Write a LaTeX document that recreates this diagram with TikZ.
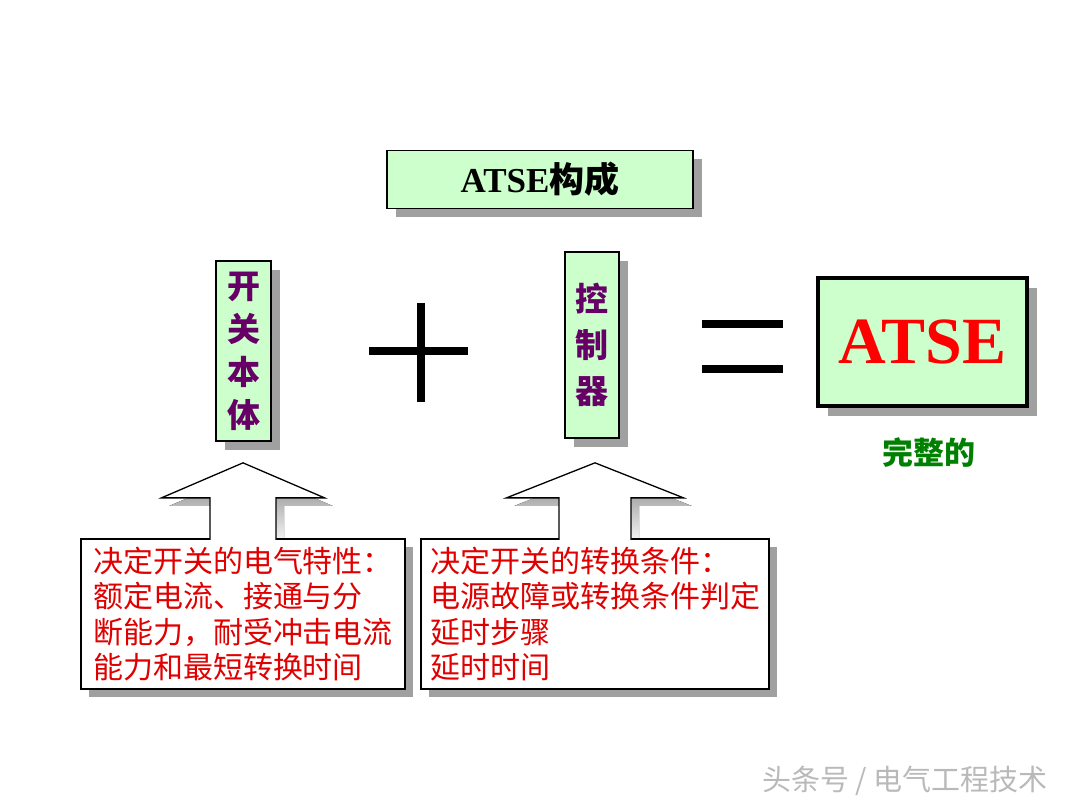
\documentclass[tikz,border=0pt]{standalone}
\usepackage{fontspec}
\setmainfont{Liberation Serif}
\newfontfamily\cjk{Noto Sans CJK SC}
\usetikzlibrary{shadows,calc,backgrounds}
\definecolor{boxgreen}{RGB}{204,255,204}
\definecolor{plum}{RGB}{102,0,102}
\definecolor{notered}{RGB}{224,0,0}
\definecolor{okgreen}{RGB}{0,128,0}
\definecolor{shade}{RGB}{160,160,160}
\tikzset{
  boxshadow/.style={drop shadow={shadow xshift=#1, shadow yshift=-#1, fill=shade, opacity=1}},
  greenbox/.style={draw, fill=boxgreen, line width=1.4pt, boxshadow=9pt, inner sep=0pt},
  vtext/.style={greenbox, align=center, text=plum, font=\cjk\bfseries\fontsize{33}{#1}\selectfont},
  notebox/.style={draw, fill=white, line width=1.3pt, boxshadow=8pt, minimum height=150pt,
    inner sep=0pt, align=left, text=notered, font=\cjk\fontsize{30}{35.5}\selectfont},
  bar/.style={line width=8pt}
}
\begin{document}
\begin{tikzpicture}[x=1pt, y=-1pt]
  \useasboundingbox (0,0) rectangle (1080,810);

  \node[greenbox, minimum width=306pt, minimum height=58pt,
    font=\bfseries\fontsize{35}{35}\selectfont] (title) at (540,179.5) {ATSE{\cjk 构成}};

  \node[vtext=43pt, minimum width=55pt, minimum height=180pt] (switch) at (243.5,351) {开\\关\\本\\体};
  \node[vtext=46pt, minimum width=54pt, minimum height=186pt] (ctrl) at (592,345) {控\\制\\器};

  \node[draw, fill=boxgreen, line width=3.5pt, boxshadow=10pt, minimum width=209pt, minimum height=128pt,
    text=red, font=\bfseries\fontsize{66}{66}\selectfont] (atse) at (922.5,342) {ATSE};
  \node[text=okgreen, font=\cjk\bfseries\fontsize{31}{31}\selectfont] (whole) at (929,453) {完整的};

  % plus and equals
  \draw[bar] (369,351.5) -- (468,351.5);
  \draw[bar] (420.5,303) -- (420.5,402);
  \draw[bar] (702,324) -- (783,324);
  \draw[bar] (702,369) -- (783,369);

  \node[notebox, minimum width=324pt] (noteL) at (243,614)
    {决定开关的电气特性：\\额定电流、接通与分\\断能力，耐受冲击电流\\能力和最短转换时间};
  \node[notebox, minimum width=348pt] (noteR) at (595,614)
    {决定开关的转换条件：\\电源故障或转换条件判定\\延时步骤\\延时时间};

  % block arrows from the notes up
  \begin{scope}[on background layer]
    \foreach \n/\h/\s in {noteL/81.5/33, noteR/88.5/36}
      \fill[shade] ([shift={(8pt,-8pt)}]\n.north) ++(-\s,0) -- ++(0,-40.5) -- ++(\s-\h,0)
        -- ++(\h,-35) -- ++(\h,35) -- ++(\s-\h,0) -- ++(0,40.5) -- cycle;
  \end{scope}
  \foreach \n/\h/\s in {noteL/81.5/33, noteR/88.5/36}
    \draw[fill=white, line width=1.3pt] (\n.north) ++(-\s,1.5) -- ++(0,-42) -- ++(\s-\h,0)
      -- ++(\h,-35) -- ++(\h,35) -- ++(\s-\h,0) -- ++(0,42);

  \node[text=gray!55, font=\cjk\fontsize{29}{29}\selectfont] (mark) at (905,781) {头条号 / 电气工程技术};
\end{tikzpicture}
\end{document}
